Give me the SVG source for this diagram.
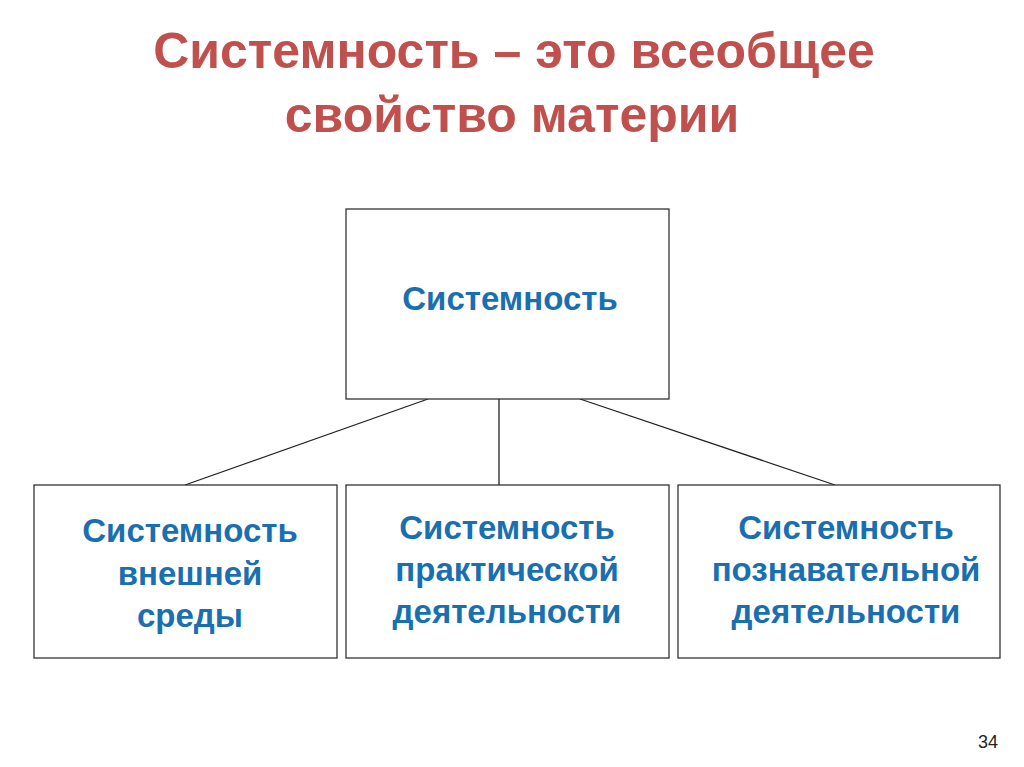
<svg xmlns="http://www.w3.org/2000/svg" width="1024" height="767" viewBox="0 0 1024 767">
<style>
.box{fill:#fff;stroke:#333;stroke-width:1.3}
.t{font-family:"Liberation Sans",Arial,sans-serif;font-weight:bold;fill:#1a6fb0;font-size:33px;text-anchor:middle}
.h{font-family:"Liberation Sans",Arial,sans-serif;font-weight:bold;fill:#c0504d;font-size:50px;text-anchor:middle}
.c{stroke:#222;stroke-width:1.3;fill:none}
</style>
<rect width="1024" height="767" fill="#fff"/>
<text class="h" x="514" y="68">Системность – это всеобщее</text>
<text class="h" x="512" y="132">свойство материи</text>
<g id="connectors">
<line class="c" x1="428" y1="399" x2="185" y2="485"/>
<line class="c" x1="499" y1="399" x2="499" y2="485"/>
<line class="c" x1="580" y1="399" x2="835" y2="485"/>
</g>
<g id="root"><rect class="box" x="346" y="209" width="323" height="190"/><text class="t" x="510" y="310" font-size="38">Системность</text></g>
<g id="n1"><rect class="box" x="34" y="485" width="303" height="173"/><text class="t" x="190" y="542">Системность</text><text class="t" x="190" y="585">внешней</text><text class="t" x="190" y="627">среды</text></g>
<g id="n2"><rect class="box" x="346" y="485" width="323" height="173"/><text class="t" x="507" y="539">Системность</text><text class="t" x="507" y="581">практической</text><text class="t" x="507" y="623">деятельности</text></g>
<g id="n3"><rect class="box" x="678" y="485" width="322" height="173"/><text class="t" x="846" y="539">Системность</text><text class="t" x="846" y="581">познавательной</text><text class="t" x="846" y="623">деятельности</text></g>
<text x="998" y="748" font-family="Liberation Sans,Arial,sans-serif" font-size="18" text-anchor="end" fill="#222">34</text>
</svg>
